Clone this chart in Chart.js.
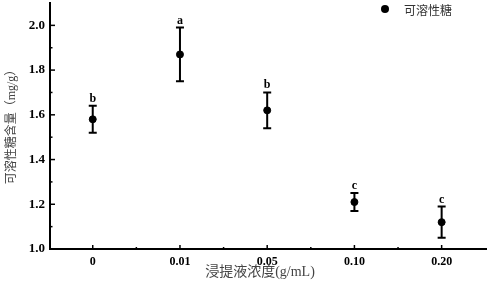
<!DOCTYPE html>
<html>
<head>
<meta charset="utf-8">
<script src="https://cdn.jsdelivr.net/npm/chart.js@4.4.0/dist/chart.umd.min.js"></script>
<style>
  html, body { margin: 0; padding: 0; background: #fff; }
  #wrap { width: 487px; height: 283px; }
</style>
</head>
<body>
<div id="wrap"><canvas id="c" width="487" height="283"></canvas></div>
<script>
// ---- data ----
const categories = ['0', '0.01', '0.05', '0.10', '0.20'];
const means = [1.58, 1.87, 1.62, 1.21, 1.12];
const errors = [0.06, 0.12, 0.08, 0.04, 0.07];
const letters = ['b', 'a', 'b', 'c', 'c'];
const yMajorTicks = [1.0, 1.2, 1.4, 1.6, 1.8, 2.0];
const yMinorTicks = [1.1, 1.3, 1.5, 1.7, 1.9];
const xMinorTicks = [0.5, 1.5, 2.5, 3.5];
const seriesName = '可溶性糖';
const xTitle = '浸提液浓度(g/mL)';
const yTitle = '可溶性糖含量（mg/g）';

const points = means.map((m, i) => ({ x: i, y: m }));

const decor = {
  id: 'decor',
  beforeDatasetsDraw(chart) {
    const ctx = chart.ctx;
    const xs = chart.scales.x, ys = chart.scales.y;
    ctx.save();
    ctx.strokeStyle = '#000';
    ctx.lineWidth = 2;
    means.forEach((m, i) => {
      const px = xs.getPixelForValue(i);
      const top = ys.getPixelForValue(m + errors[i]);
      const bot = ys.getPixelForValue(m - errors[i]);
      ctx.beginPath();
      ctx.moveTo(px, top); ctx.lineTo(px, bot);
      ctx.moveTo(px - 4, top); ctx.lineTo(px + 4, top);
      ctx.moveTo(px - 4, bot); ctx.lineTo(px + 4, bot);
      ctx.stroke();
      ctx.fillStyle = '#000';
      ctx.font = 'bold 12px "Liberation Serif", serif';
      ctx.textAlign = 'center';
      ctx.textBaseline = 'alphabetic';
      ctx.fillText(letters[i], px, top - 4);
    });
    ctx.restore();
  },
  afterDraw(chart) {
    const ctx = chart.ctx;
    const xs = chart.scales.x, ys = chart.scales.y;
    const ca = chart.chartArea;
    ctx.save();
    ctx.strokeStyle = '#000';
    ctx.lineWidth = 1.5;
    yMajorTicks.forEach(v => {
      const py = ys.getPixelForValue(v);
      ctx.beginPath(); ctx.moveTo(ca.left, py); ctx.lineTo(ca.left + 5, py); ctx.stroke();
    });
    yMinorTicks.forEach(v => {
      const py = ys.getPixelForValue(v);
      ctx.beginPath(); ctx.moveTo(ca.left, py); ctx.lineTo(ca.left + 2.5, py); ctx.stroke();
    });
    categories.forEach((c, i) => {
      const px = xs.getPixelForValue(i);
      ctx.beginPath(); ctx.moveTo(px, ca.bottom); ctx.lineTo(px, ca.bottom - 4); ctx.stroke();
    });
    xMinorTicks.forEach(v => {
      const px = xs.getPixelForValue(v);
      ctx.beginPath(); ctx.moveTo(px, ca.bottom); ctx.lineTo(px, ca.bottom - 2); ctx.stroke();
    });
    ctx.fillStyle = '#444';
    ctx.textAlign = 'center';
    ctx.textBaseline = 'middle';
    ctx.font = '14px "Liberation Serif", "Noto Sans CJK SC", serif';
    ctx.fillText(xTitle, 260, 272);
    ctx.save();
    ctx.translate(12, (ca.top + ca.bottom) / 2 - 2);
    ctx.rotate(-Math.PI / 2);
    ctx.font = '12px "Liberation Serif", "Noto Sans CJK SC", serif';
    ctx.fillText(yTitle, 0, 0);
    ctx.restore();
    ctx.fillStyle = '#000';
    ctx.beginPath(); ctx.arc(385, 9, 4, 0, Math.PI * 2); ctx.fill();
    ctx.fillStyle = '#333';
    ctx.textAlign = 'left';
    ctx.font = '12px "Noto Sans CJK SC", sans-serif';
    ctx.fillText(seriesName, 404, 10);
    ctx.restore();
  }
};

new Chart(document.getElementById('c'), {
  type: 'scatter',
  data: {
    datasets: [{
      label: seriesName,
      data: points,
      backgroundColor: '#000',
      borderColor: '#000',
      borderWidth: 1,
      pointRadius: 3.5,
      pointHoverRadius: 3.5,
      showLine: false,
      clip: false
    }]
  },
  options: {
    responsive: false,
    animation: false,
    layout: { autoPadding: false, padding: { top: 3, right: 0, left: 0, bottom: 0 } },
    plugins: { legend: { display: false }, tooltip: { enabled: false } },
    scales: {
      x: {
        type: 'linear',
        min: -0.49,
        max: 4.52,
        afterBuildTicks(scale) { scale.ticks = categories.map((c, i) => ({ value: i })); },
        afterFit(scale) { scale.height = 34; scale.paddingLeft = 0; scale.paddingRight = 0; },
        grid: { display: false, drawTicks: false },
        border: { display: true, color: '#000', width: 2 },
        ticks: {
          padding: 6,
          color: '#000',
          font: { family: '"Liberation Serif", serif', weight: 'bold', size: 12 },
          callback: (v) => categories[v] !== undefined ? categories[v] : ''
        }
      },
      y: {
        min: 1.0,
        max: 2.1,
        afterBuildTicks(scale) { scale.ticks = yMajorTicks.map(v => ({ value: v })); },
        afterFit(scale) { scale.width = 50; scale.paddingTop = 0; scale.paddingBottom = 0; },
        grid: { display: false, drawTicks: false },
        border: { display: true, color: '#000', width: 2 },
        ticks: {
          padding: 5,
          color: '#000',
          font: { family: '"Liberation Serif", serif', weight: 'bold', size: 13 },
          callback: (v) => v.toFixed(1)
        }
      }
    }
  },
  plugins: [decor]
});
</script>
</body>
</html>
